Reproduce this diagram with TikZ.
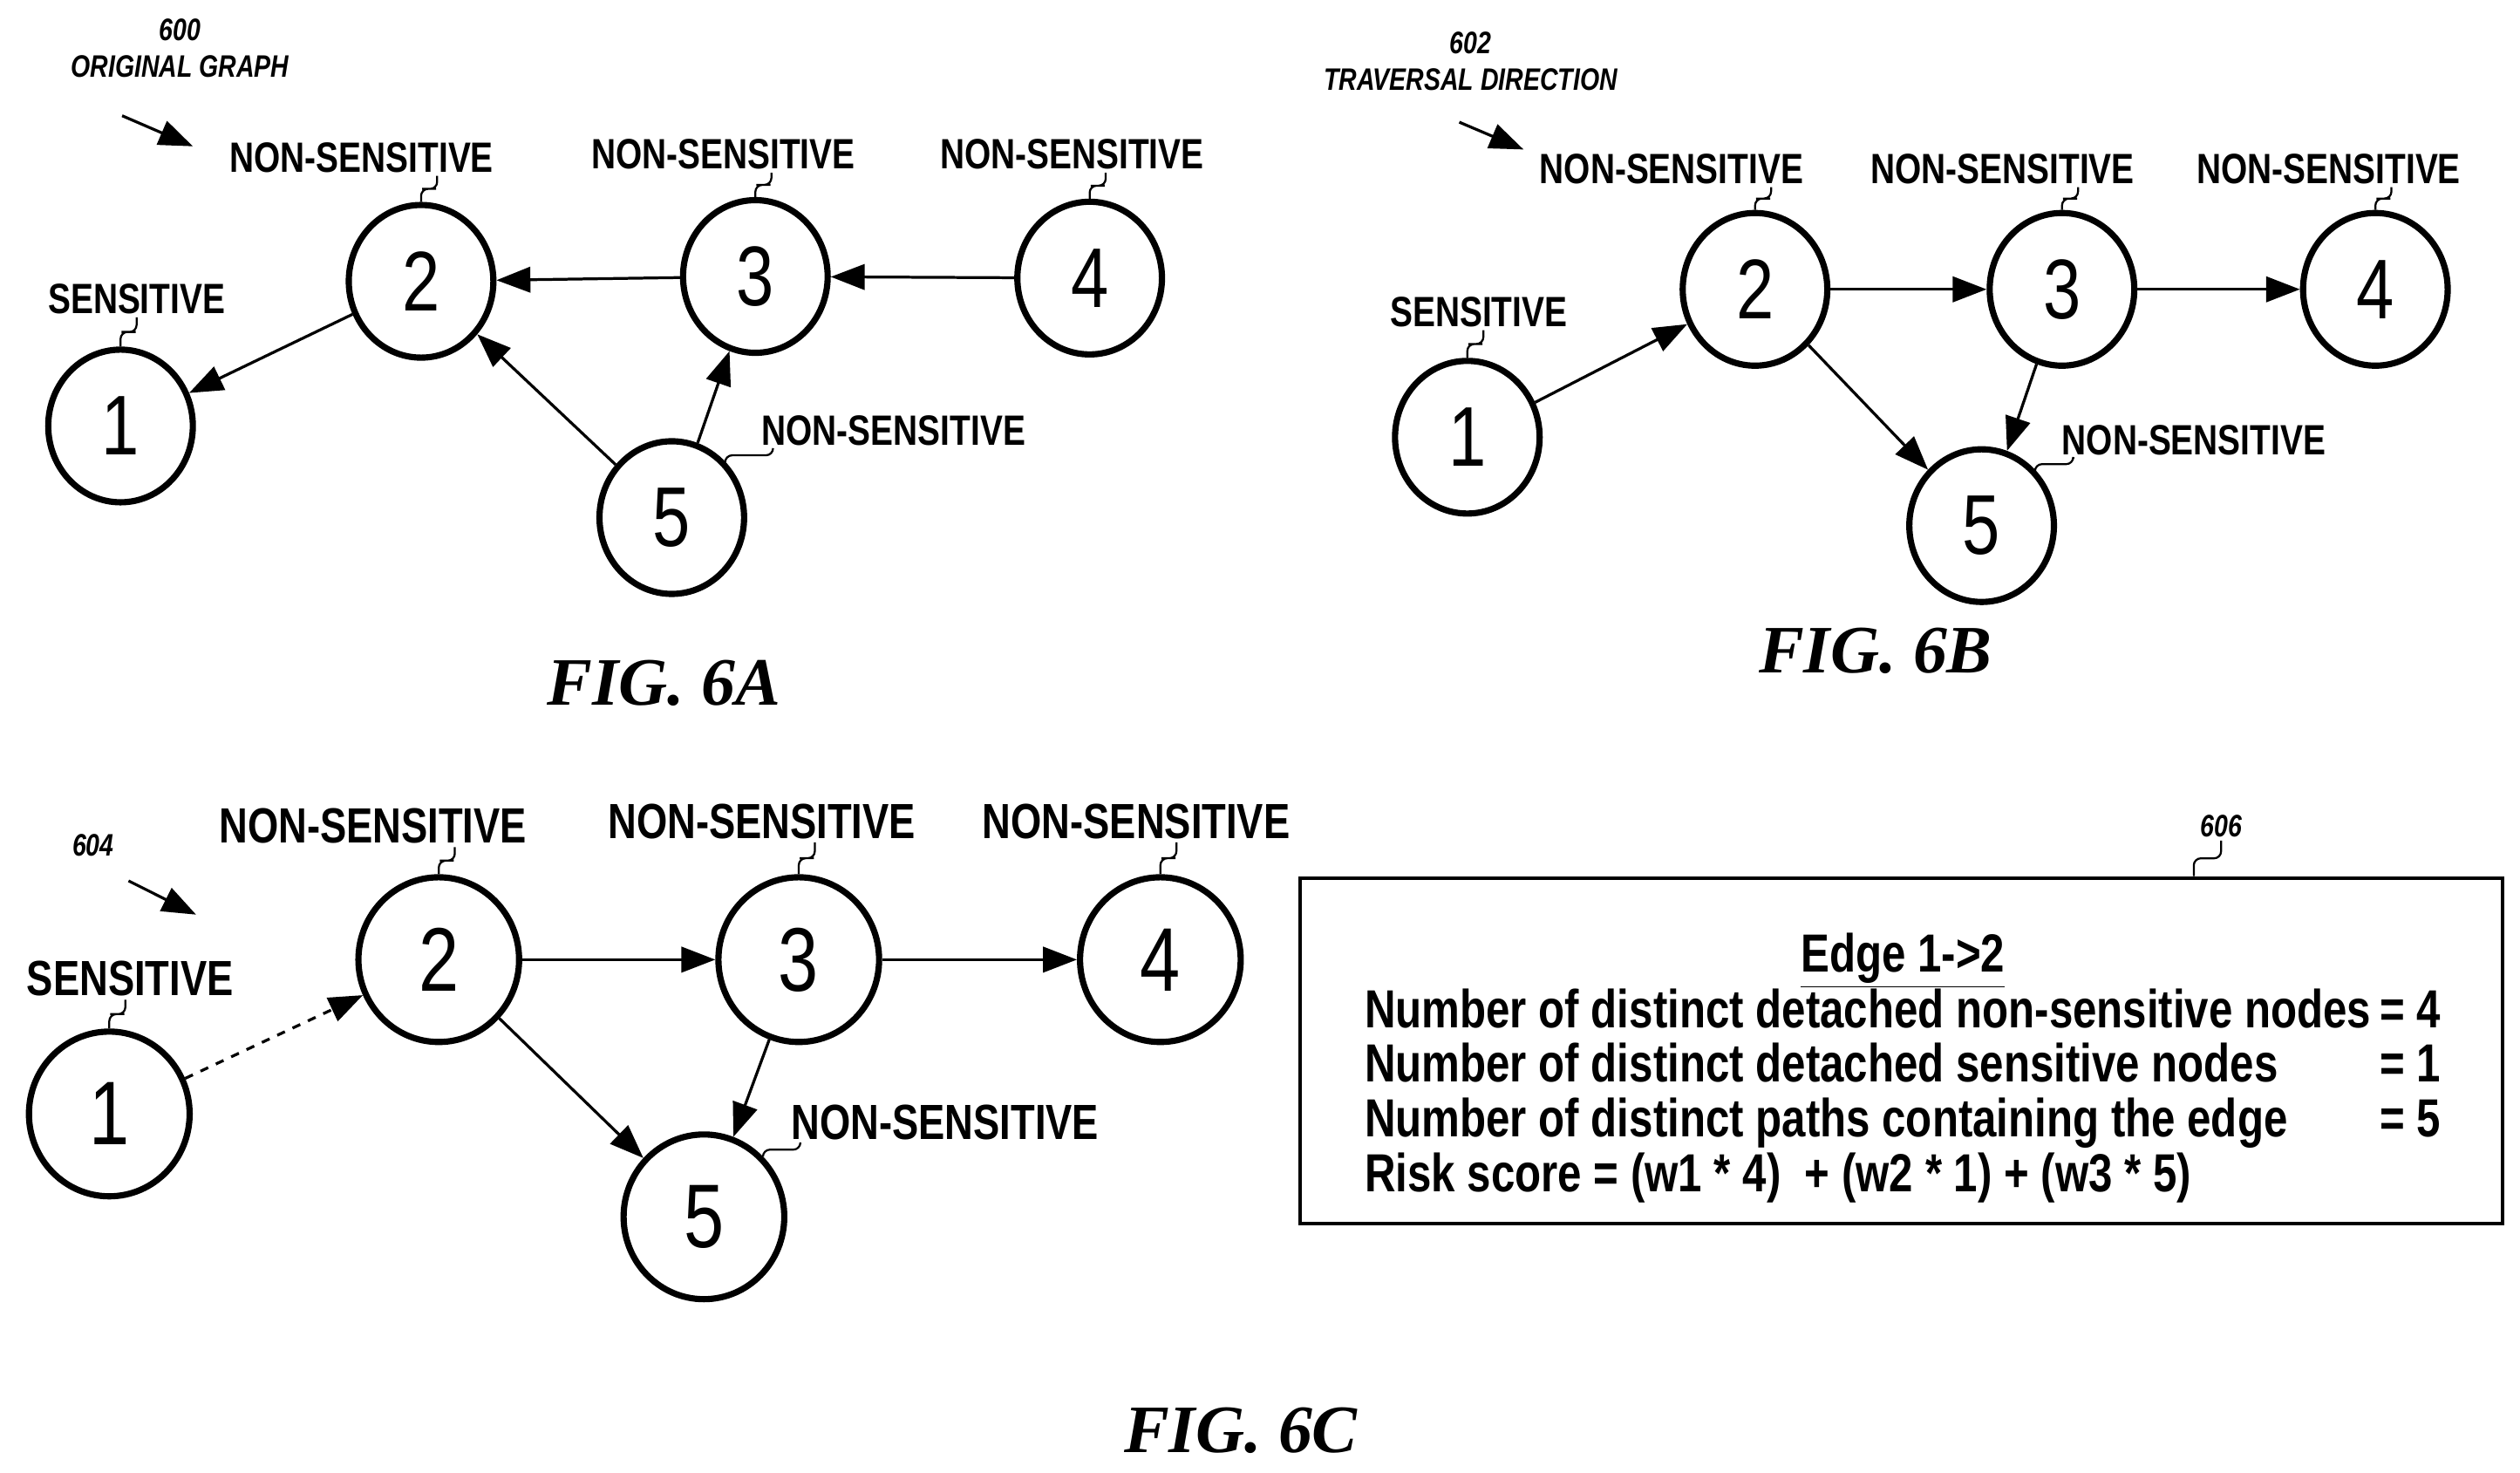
\documentclass[tikz,border=0pt]{standalone}
\usepackage{fontspec}
\setmainfont{Liberation Sans}[FakeStretch=0.8]
\newfontfamily\figfont{Liberation Serif}
\usetikzlibrary{calc,arrows.meta,shapes.geometric}
\newcommand\myleader[3][0.2cm]{\draw[squig] let \p1=(#3.north), \p2=(#2.south) in (\x1+#1,\y2) to (\p1);}
\begin{document}
\begin{tikzpicture}[x=0.02cm,y=-0.02cm,
  gn/.style={draw,ellipse,line width=2.2pt,minimum width=1.8cm,minimum height=1.9cm,inner sep=0pt,font=\fontsize{30}{30}\selectfont},
  gnc/.style={gn,minimum width=2.0cm,minimum height=2.05cm,font=\fontsize{32}{32}\selectfont},
  lb/.style={font=\fontsize{15}{15}\selectfont\bfseries,inner sep=1pt},
  lbc/.style={font=\fontsize{17.5}{17.5}\selectfont\bfseries,inner sep=1pt},
  ref/.style={font=\fontsize{11}{13}\selectfont\bfseries\itshape,align=center,inner sep=1pt},
  fig/.style={font=\fontsize{24}{24}\selectfont\figfont\bfseries\itshape},
  ed/.style={line width=1pt,-{Triangle[length=12pt,width=9pt]}},
  squig/.style={line width=0.7pt,rounded corners=2.5pt,to path={(\tikztostart) |- ($(\tikztostart)!0.5!(\tikztotarget)$) -| (\tikztotarget)}}]
\useasboundingbox (0,0) rectangle (1568,916);
% ---------- FIG 6A
\node[ref] (r600) at (112,30) {600\\ORIGINAL GRAPH};
\coordinate (a600s) at (76,72); \coordinate (a600e) at (120,91);
\draw[ed] (a600s) -- (a600e);
\node[gn] (a1) at (75,265) {1};
\node[gn] (a2) at (262,175) {2};
\node[gn] (a3) at (470,172) {3};
\node[gn] (a4) at (678,173) {4};
\node[gn] (a5) at (418,322) {5};
\node[lb] (la1) at (85,186) {SENSITIVE};
\node[lb] (la2) at (225,98) {NON-SENSITIVE};
\node[lb] (la3) at (450,96) {NON-SENSITIVE};
\node[lb] (la4) at (667,96) {NON-SENSITIVE};
\node[lb] (la5) at (556,268) {NON-SENSITIVE};
\myleader{la1}{a1}
\myleader{la2}{a2}
\myleader{la3}{a3}
\myleader{la4}{a4}
\draw[squig] ([xshift=-1.5cm]la5.south) to (a5.north east);
\draw[ed] (a2) -- (a1);
\draw[ed] (a3) -- (a2);
\draw[ed] (a4) -- (a3);
\draw[ed] (a5) -- (a2);
\draw[ed] (a5) -- (a3);
\node[fig] (f6a) at (413,425) {FIG. 6A};
% ---------- FIG 6B
\node[ref] (r602) at (915,38) {602\\TRAVERSAL DIRECTION};
\coordinate (a602s) at (908,76); \coordinate (a602e) at (948,93);
\draw[ed] (a602s) -- (a602e);
\node[gn] (b1) at (913,272) {1};
\node[gn] (b2) at (1092,180) {2};
\node[gn] (b3) at (1283,180) {3};
\node[gn] (b4) at (1478,180) {4};
\node[gn] (b5) at (1233,327) {5};
\node[lb] (lb1) at (920,194) {SENSITIVE};
\node[lb] (lb2) at (1040,105) {NON-SENSITIVE};
\node[lb] (lb3) at (1246,105) {NON-SENSITIVE};
\node[lb] (lb4) at (1449,105) {NON-SENSITIVE};
\node[lb] (lb5) at (1365,274) {NON-SENSITIVE};
\myleader{lb1}{b1}
\myleader{lb2}{b2}
\myleader{lb3}{b3}
\myleader{lb4}{b4}
\draw[squig] ([xshift=-1.5cm]lb5.south) to (b5.north east);
\draw[ed] (b1) -- (b2);
\draw[ed] (b2) -- (b3);
\draw[ed] (b3) -- (b4);
\draw[ed] (b2) -- (b5);
\draw[ed] (b3) -- (b5);
\node[fig] (f6b) at (1167,405) {FIG. 6B};
% ---------- FIG 6C
\node[ref] (r604) at (58,526) {604};
\coordinate (a604s) at (80,548); \coordinate (a604e) at (122,569);
\draw[ed] (a604s) -- (a604e);
\node[gnc] (c1) at (68,693) {1};
\node[gnc] (c2) at (273,597) {2};
\node[gnc] (c3) at (497,597) {3};
\node[gnc] (c4) at (722,597) {4};
\node[gnc] (c5) at (438,757) {5};
\node[lbc] (lc1) at (81,609) {SENSITIVE};
\node[lbc] (lc2) at (232,514) {NON-SENSITIVE};
\node[lbc] (lc3) at (474,511) {NON-SENSITIVE};
\node[lbc] (lc4) at (707,511) {NON-SENSITIVE};
\node[lbc] (lc5) at (588,698) {NON-SENSITIVE};
\myleader{lc1}{c1}
\myleader{lc2}{c2}
\myleader{lc3}{c3}
\myleader{lc4}{c4}
\draw[squig] ([xshift=-1.8cm]lc5.south) to (c5.north east);
\draw[ed,dashed] (c1) -- (c2);
\draw[ed] (c2) -- (c3);
\draw[ed] (c3) -- (c4);
\draw[ed] (c2) -- (c5);
\draw[ed] (c3) -- (c5);
\node[fig] (f6c) at (772,890) {FIG. 6C};
% box
\node[draw,line width=1.3pt,minimum width=14.96cm,minimum height=4.3cm,anchor=north west,inner sep=0pt] (box) at (808,545) {};
\node[ref] (r606) at (1382,514) {606};
\coordinate (b606) at (1365,545);
\draw[squig] (r606.south) to (b606);
\node[anchor=north,font=\fontsize{19}{18.5}\selectfont\bfseries,inner sep=0pt] (boxtxt) at (1184,580) {%
\renewcommand\arraystretch{1}%
\begin{tabular}{@{}l@{}r@{}}
\multicolumn{2}{c}{\underline{Edge 1->2}}\\
Number of distinct detached non-sensitive nodes & \,= 4\\
Number of distinct detached sensitive nodes & = 1\\
Number of distinct paths containing the edge & = 5\\
Risk score = (w1 * 4)\ \ + (w2 * 1) + (w3 * 5) & \\
\end{tabular}};
\end{tikzpicture}
\end{document}
